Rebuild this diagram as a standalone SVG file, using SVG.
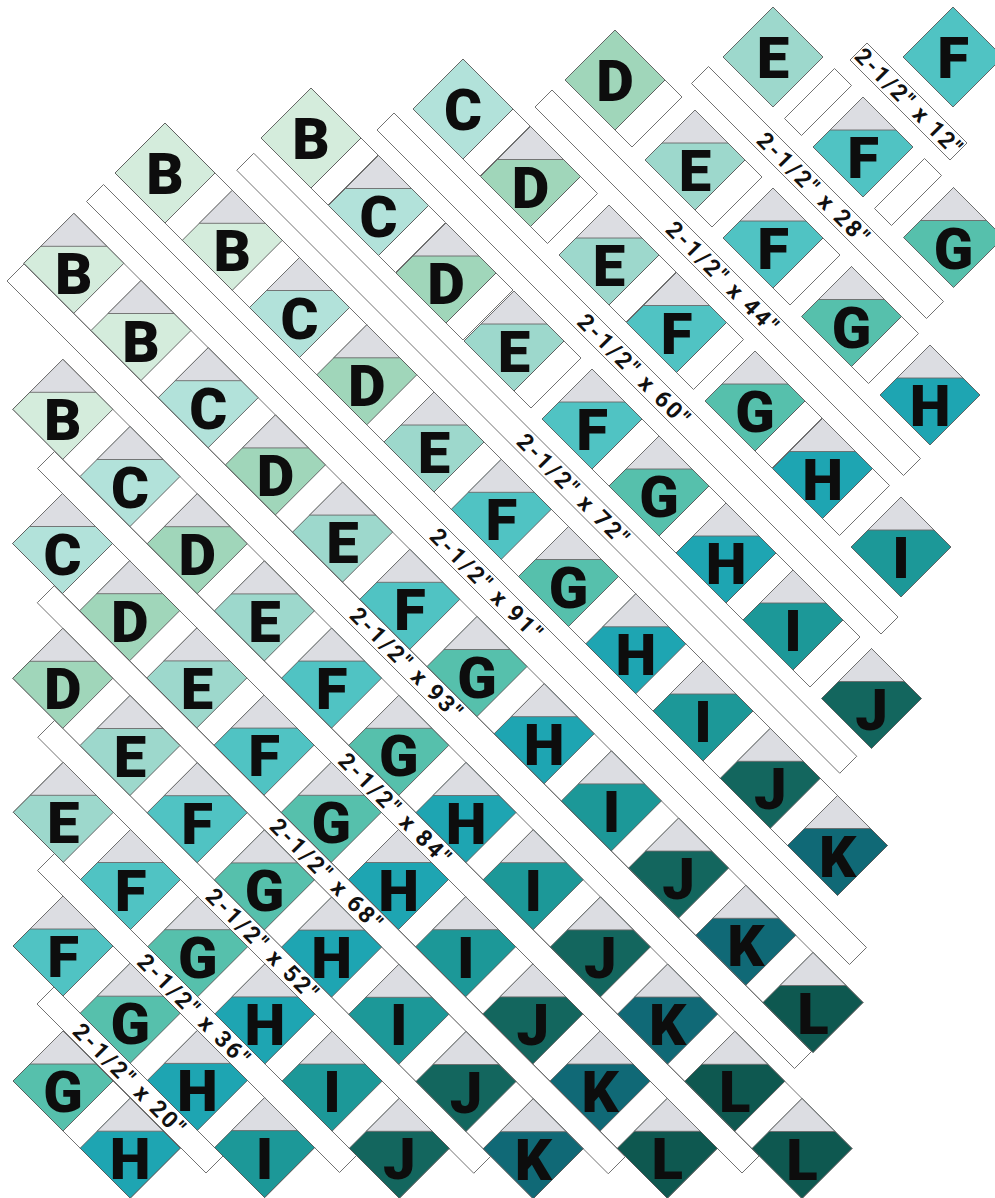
<svg xmlns="http://www.w3.org/2000/svg" xmlns:xlink="http://www.w3.org/1999/xlink" width="995" height="1198" viewBox="0 0 995 1198">
<style>
.cB{fill:#d4ecdc}.cC{fill:#b2e2da}.cD{fill:#a0d6ba}.cE{fill:#9dd8cc}.cF{fill:#50c3c3}.cG{fill:#56c0ac}
.cH{fill:#1ea5b2}.cI{fill:#1c9898}.cJ{fill:#13665e}.cK{fill:#106976}.cL{fill:#0e5850}
.sk{fill:#fff;stroke:#6e6e6e;stroke-width:1.3}
text.l{font-family:Roboto,"Liberation Sans",sans-serif;font-weight:900;font-size:58px;text-anchor:middle;fill:#0d0d0d}
text.lab{font-family:Roboto,"Liberation Sans",sans-serif;font-weight:700;font-size:23px;text-anchor:middle;fill:#111}
</style>
<defs>
<polygon id="dm" points="0,-50 50,0 0,50 -50,0" stroke="#585858" stroke-width="0.9"/>
<polygon id="cp" points="0,-50 33,-17 -33,-17" fill="#dcdde2" stroke="#6a6a6a" stroke-width="0.9"/>
</defs>
<rect width="995" height="1198" fill="#fff"/>
<g id="connectors">
<g id="strips" class="sk" transform="matrix(0.5,0.5,0.5,-0.5,0,0)">
<rect x="910" y="790" width="200" height="34"/>
<rect x="775" y="608" width="470" height="34"/>
<rect x="642" y="428" width="737" height="34"/>
<rect x="507" y="247" width="1008" height="34"/>
<rect x="407" y="66.5" width="1206" height="34"/>
<rect x="288" y="-115" width="1526" height="34"/>
<rect x="288" y="-274" width="1575" height="34"/>
<rect x="506" y="-431" width="1409" height="34"/>
<rect x="640" y="-565.5" width="1142" height="34"/>
<rect x="775" y="-699.5" width="872" height="34"/>
<rect x="908" y="-833" width="604" height="34"/>
<rect x="1041" y="-967" width="338" height="34"/>
</g>
<g id="sashing" class="sk" transform="matrix(0.5,0.5,0.5,-0.5,0,0)">
<rect x="288" y="-58" width="1445" height="100"/>
<rect x="287" y="-239.5" width="1578.4" height="100"/>
<rect x="422" y="-396.5" width="1578.4" height="100"/>
<rect x="556" y="-531" width="1309.6" height="100"/>
<rect x="691" y="-665.5" width="1040.8" height="100"/>
<rect x="825.5" y="-799" width="772" height="100"/>
<rect x="959" y="-933" width="503.2" height="100"/>
<rect x="1094" y="-1068" width="234.4" height="100"/>
<rect x="903" y="666" width="34" height="100"/>
<rect x="1083" y="666" width="34" height="100"/>
<rect x="745" y="485" width="34" height="100"/>
<rect x="905" y="485" width="34" height="100"/>
<rect x="1061" y="485" width="34" height="100"/>
<rect x="1218" y="485" width="34" height="100"/>
<rect x="622" y="304" width="34" height="100"/>
<rect x="757" y="304" width="34" height="100"/>
<rect x="914" y="304" width="34" height="100"/>
<rect x="1049" y="304" width="34" height="100"/>
<rect x="1206" y="304" width="34" height="100"/>
<rect x="1341" y="304" width="34" height="100"/>
<rect x="499" y="123" width="34" height="100"/>
<rect x="634" y="123" width="34" height="100"/>
<rect x="769" y="123" width="34" height="100"/>
<rect x="905" y="123" width="34" height="100"/>
<rect x="1061" y="123" width="34" height="100"/>
<rect x="1195" y="123" width="34" height="100"/>
<rect x="1329" y="123" width="34" height="100"/>
<rect x="1463" y="123" width="34" height="100"/>
</g>
</g>
<g id="tiles">
<g id="a1" transform="translate(953,57)"><use href="#dm" class="cF"/><text class="l" y="21">F</text></g>
<g id="b1" transform="translate(773,57)"><use href="#dm" class="cE"/><text class="l" y="21">E</text></g>
<g id="b2" transform="translate(863,147)"><use href="#dm" class="cF"/><use href="#cp"/><text class="l" y="31">F</text></g>
<g id="b3" transform="translate(953.5,237.5)"><use href="#dm" class="cG"/><use href="#cp"/><text class="l" y="31">G</text></g>
<g id="c1" transform="translate(615,80)"><use href="#dm" class="cD"/><text class="l" y="21">D</text></g>
<g id="c2" transform="translate(695,160)"><use href="#dm" class="cE"/><use href="#cp"/><text class="l" y="31">E</text></g>
<g id="c3" transform="translate(773,238)"><use href="#dm" class="cF"/><use href="#cp"/><text class="l" y="31">F</text></g>
<g id="c4" transform="translate(851.5,316.5)"><use href="#dm" class="cG"/><use href="#cp"/><text class="l" y="31">G</text></g>
<g id="c5" transform="translate(930,395)"><use href="#dm" class="cH"/><use href="#cp"/><text class="l" y="31">H</text></g>
<g id="d1" transform="translate(463,109)"><use href="#dm" class="cC"/><text class="l" y="21">C</text></g>
<g id="d2" transform="translate(530.5,176.5)"><use href="#dm" class="cD"/><use href="#cp"/><text class="l" y="31">D</text></g>
<g id="d3" transform="translate(609,255)"><use href="#dm" class="cE"/><use href="#cp"/><text class="l" y="31">E</text></g>
<g id="d4" transform="translate(676.5,322.5)"><use href="#dm" class="cF"/><use href="#cp"/><text class="l" y="31">F</text></g>
<g id="d5" transform="translate(755,401)"><use href="#dm" class="cG"/><use href="#cp"/><text class="l" y="31">G</text></g>
<g id="d6" transform="translate(822.5,468.5)"><use href="#dm" class="cH"/><use href="#cp"/><text class="l" y="31">H</text></g>
<g id="d7" transform="translate(901,547)"><use href="#dm" class="cI"/><use href="#cp"/><text class="l" y="31">I</text></g>
<g id="e1" transform="translate(311,138)"><use href="#dm" class="cB"/><text class="l" y="21">B</text></g>
<g id="e2" transform="translate(378.5,205.5)"><use href="#dm" class="cC"/><use href="#cp"/><text class="l" y="31">C</text></g>
<g id="e3" transform="translate(446,273)"><use href="#dm" class="cD"/><use href="#cp"/><text class="l" y="31">D</text></g>
<g id="e4" transform="translate(514,341)"><use href="#dm" class="cE"/><use href="#cp"/><text class="l" y="31">E</text></g>
<g id="e5" transform="translate(592,419)"><use href="#dm" class="cF"/><use href="#cp"/><text class="l" y="31">F</text></g>
<g id="e6" transform="translate(659,486)"><use href="#dm" class="cG"/><use href="#cp"/><text class="l" y="31">G</text></g>
<g id="e7" transform="translate(726,553)"><use href="#dm" class="cH"/><use href="#cp"/><text class="l" y="31">H</text></g>
<g id="e8" transform="translate(793,620)"><use href="#dm" class="cI"/><use href="#cp"/><text class="l" y="31">I</text></g>
<g id="e9" transform="translate(871.5,698.5)"><use href="#dm" class="cJ"/><use href="#cp"/><text class="l" y="31">J</text></g>
<g id="f1" transform="translate(165,173)"><use href="#dm" class="cB"/><text class="l" y="21">B</text></g>
<g id="f2" transform="translate(232.3,240.3)"><use href="#dm" class="cB"/><use href="#cp"/><text class="l" y="31">B</text></g>
<g id="f3" transform="translate(299.5,307.5)"><use href="#dm" class="cC"/><use href="#cp"/><text class="l" y="31">C</text></g>
<g id="f4" transform="translate(366.8,374.8)"><use href="#dm" class="cD"/><use href="#cp"/><text class="l" y="31">D</text></g>
<g id="f5" transform="translate(434,442)"><use href="#dm" class="cE"/><use href="#cp"/><text class="l" y="31">E</text></g>
<g id="f6" transform="translate(501.3,509.3)"><use href="#dm" class="cF"/><use href="#cp"/><text class="l" y="31">F</text></g>
<g id="f7" transform="translate(568.5,576.5)"><use href="#dm" class="cG"/><use href="#cp"/><text class="l" y="31">G</text></g>
<g id="f8" transform="translate(635.8,643.8)"><use href="#dm" class="cH"/><use href="#cp"/><text class="l" y="31">H</text></g>
<g id="f9" transform="translate(703,711)"><use href="#dm" class="cI"/><use href="#cp"/><text class="l" y="31">I</text></g>
<g id="f10" transform="translate(770.3,778.3)"><use href="#dm" class="cJ"/><use href="#cp"/><text class="l" y="31">J</text></g>
<g id="f11" transform="translate(837.5,845.5)"><use href="#dm" class="cK"/><use href="#cp"/><text class="l" y="31">K</text></g>
<g id="g1" transform="translate(73.8,263.3)"><use href="#dm" class="cB"/><use href="#cp"/><text class="l" y="31">B</text></g>
<g id="g2" transform="translate(141,330.5)"><use href="#dm" class="cB"/><use href="#cp"/><text class="l" y="31">B</text></g>
<g id="g3" transform="translate(208.2,397.7)"><use href="#dm" class="cC"/><use href="#cp"/><text class="l" y="31">C</text></g>
<g id="g4" transform="translate(275.4,464.9)"><use href="#dm" class="cD"/><use href="#cp"/><text class="l" y="31">D</text></g>
<g id="g5" transform="translate(342.6,532.1)"><use href="#dm" class="cE"/><use href="#cp"/><text class="l" y="31">E</text></g>
<g id="g6" transform="translate(409.8,599.3)"><use href="#dm" class="cF"/><use href="#cp"/><text class="l" y="31">F</text></g>
<g id="g7" transform="translate(477,666.5)"><use href="#dm" class="cG"/><use href="#cp"/><text class="l" y="31">G</text></g>
<g id="g8" transform="translate(544.2,733.7)"><use href="#dm" class="cH"/><use href="#cp"/><text class="l" y="31">H</text></g>
<g id="g9" transform="translate(611.4,800.9)"><use href="#dm" class="cI"/><use href="#cp"/><text class="l" y="31">I</text></g>
<g id="g10" transform="translate(678.6,868.1)"><use href="#dm" class="cJ"/><use href="#cp"/><text class="l" y="31">J</text></g>
<g id="g11" transform="translate(745.8,935.3)"><use href="#dm" class="cK"/><use href="#cp"/><text class="l" y="31">K</text></g>
<g id="g12" transform="translate(813,1002.5)"><use href="#dm" class="cL"/><use href="#cp"/><text class="l" y="31">L</text></g>
<g id="h1" transform="translate(62.8,409.3)"><use href="#dm" class="cB"/><use href="#cp"/><text class="l" y="31">B</text></g>
<g id="h2" transform="translate(130,476.5)"><use href="#dm" class="cC"/><use href="#cp"/><text class="l" y="31">C</text></g>
<g id="h3" transform="translate(197.2,543.7)"><use href="#dm" class="cD"/><use href="#cp"/><text class="l" y="31">D</text></g>
<g id="h4" transform="translate(264.4,610.9)"><use href="#dm" class="cE"/><use href="#cp"/><text class="l" y="31">E</text></g>
<g id="h5" transform="translate(331.6,678.1)"><use href="#dm" class="cF"/><use href="#cp"/><text class="l" y="31">F</text></g>
<g id="h6" transform="translate(398.8,745.3)"><use href="#dm" class="cG"/><use href="#cp"/><text class="l" y="31">G</text></g>
<g id="h7" transform="translate(466,812.5)"><use href="#dm" class="cH"/><use href="#cp"/><text class="l" y="31">H</text></g>
<g id="h8" transform="translate(533.2,879.7)"><use href="#dm" class="cI"/><use href="#cp"/><text class="l" y="31">I</text></g>
<g id="h9" transform="translate(600.4,946.9)"><use href="#dm" class="cJ"/><use href="#cp"/><text class="l" y="31">J</text></g>
<g id="h10" transform="translate(667.6,1014.1)"><use href="#dm" class="cK"/><use href="#cp"/><text class="l" y="31">K</text></g>
<g id="h11" transform="translate(734.8,1081.3)"><use href="#dm" class="cL"/><use href="#cp"/><text class="l" y="31">L</text></g>
<g id="h12" transform="translate(802,1148.5)"><use href="#dm" class="cL"/><use href="#cp"/><text class="l" y="31">L</text></g>
<g id="i1" transform="translate(62.5,543.5)"><use href="#dm" class="cC"/><use href="#cp"/><text class="l" y="31">C</text></g>
<g id="i2" transform="translate(129.7,610.7)"><use href="#dm" class="cD"/><use href="#cp"/><text class="l" y="31">D</text></g>
<g id="i3" transform="translate(196.9,677.9)"><use href="#dm" class="cE"/><use href="#cp"/><text class="l" y="31">E</text></g>
<g id="i4" transform="translate(264.1,745.1)"><use href="#dm" class="cF"/><use href="#cp"/><text class="l" y="31">F</text></g>
<g id="i5" transform="translate(331.3,812.3)"><use href="#dm" class="cG"/><use href="#cp"/><text class="l" y="31">G</text></g>
<g id="i6" transform="translate(398.5,879.5)"><use href="#dm" class="cH"/><use href="#cp"/><text class="l" y="31">H</text></g>
<g id="i7" transform="translate(465.7,946.7)"><use href="#dm" class="cI"/><use href="#cp"/><text class="l" y="31">I</text></g>
<g id="i8" transform="translate(532.9,1013.9)"><use href="#dm" class="cJ"/><use href="#cp"/><text class="l" y="31">J</text></g>
<g id="i9" transform="translate(600.1,1081.1)"><use href="#dm" class="cK"/><use href="#cp"/><text class="l" y="31">K</text></g>
<g id="i10" transform="translate(667.3,1148.3)"><use href="#dm" class="cL"/><use href="#cp"/><text class="l" y="31">L</text></g>
<g id="j1" transform="translate(62.8,678.3)"><use href="#dm" class="cD"/><use href="#cp"/><text class="l" y="31">D</text></g>
<g id="j2" transform="translate(130,745.5)"><use href="#dm" class="cE"/><use href="#cp"/><text class="l" y="31">E</text></g>
<g id="j3" transform="translate(197.2,812.7)"><use href="#dm" class="cF"/><use href="#cp"/><text class="l" y="31">F</text></g>
<g id="j4" transform="translate(264.4,879.9)"><use href="#dm" class="cG"/><use href="#cp"/><text class="l" y="31">G</text></g>
<g id="j5" transform="translate(331.6,947.1)"><use href="#dm" class="cH"/><use href="#cp"/><text class="l" y="31">H</text></g>
<g id="j6" transform="translate(398.8,1014.3)"><use href="#dm" class="cI"/><use href="#cp"/><text class="l" y="31">I</text></g>
<g id="j7" transform="translate(466,1081.5)"><use href="#dm" class="cJ"/><use href="#cp"/><text class="l" y="31">J</text></g>
<g id="j8" transform="translate(533.2,1148.7)"><use href="#dm" class="cK"/><use href="#cp"/><text class="l" y="31">K</text></g>
<g id="k1" transform="translate(63.3,812.3)"><use href="#dm" class="cE"/><use href="#cp"/><text class="l" y="31">E</text></g>
<g id="k2" transform="translate(130.5,879.5)"><use href="#dm" class="cF"/><use href="#cp"/><text class="l" y="31">F</text></g>
<g id="k3" transform="translate(197.7,946.7)"><use href="#dm" class="cG"/><use href="#cp"/><text class="l" y="31">G</text></g>
<g id="k4" transform="translate(264.9,1013.9)"><use href="#dm" class="cH"/><use href="#cp"/><text class="l" y="31">H</text></g>
<g id="k5" transform="translate(332.1,1081.1)"><use href="#dm" class="cI"/><use href="#cp"/><text class="l" y="31">I</text></g>
<g id="k6" transform="translate(399.3,1148.3)"><use href="#dm" class="cJ"/><use href="#cp"/><text class="l" y="31">J</text></g>
<g id="l1" transform="translate(63,946)"><use href="#dm" class="cF"/><use href="#cp"/><text class="l" y="31">F</text></g>
<g id="l2" transform="translate(130.2,1013.2)"><use href="#dm" class="cG"/><use href="#cp"/><text class="l" y="31">G</text></g>
<g id="l3" transform="translate(197.4,1080.4)"><use href="#dm" class="cH"/><use href="#cp"/><text class="l" y="31">H</text></g>
<g id="l4" transform="translate(264.6,1147.6)"><use href="#dm" class="cI"/><use href="#cp"/><text class="l" y="31">I</text></g>
<g id="m1" transform="translate(63,1081)"><use href="#dm" class="cG"/><use href="#cp"/><text class="l" y="31">G</text></g>
<g id="m2" transform="translate(130.2,1148.2)"><use href="#dm" class="cH"/><use href="#cp"/><text class="l" y="31">H</text></g>
</g>
<g id="labels">
<text class="lab" transform="translate(908.3,101.3) rotate(45)" y="8" textLength="140" lengthAdjust="spacing">2-1/2" x 12"</text>
<text class="lab" transform="translate(813,188) rotate(45)" y="8" textLength="147" lengthAdjust="spacing">2-1/2" x 28"</text>
<text class="lab" transform="translate(722,277) rotate(45)" y="8" textLength="147" lengthAdjust="spacing">2-1/2" x 44"</text>
<text class="lab" transform="translate(633.5,369.5) rotate(45)" y="8" textLength="147" lengthAdjust="spacing">2-1/2" x 60"</text>
<text class="lab" transform="translate(572.8,489.3) rotate(45)" y="8" textLength="147" lengthAdjust="spacing">2-1/2" x 72"</text>
<text class="lab" transform="translate(486,584) rotate(45)" y="8" textLength="147" lengthAdjust="spacing">2-1/2" x 91"</text>
<text class="lab" transform="translate(406,663) rotate(45)" y="8" textLength="147" lengthAdjust="spacing">2-1/2" x 93"</text>
<text class="lab" transform="translate(394.5,808.5) rotate(45)" y="8" textLength="147" lengthAdjust="spacing">2-1/2" x 84"</text>
<text class="lab" transform="translate(326,874) rotate(45)" y="8" textLength="147" lengthAdjust="spacing">2-1/2" x 68"</text>
<text class="lab" transform="translate(262,944) rotate(45)" y="8" textLength="147" lengthAdjust="spacing">2-1/2" x 52"</text>
<text class="lab" transform="translate(193.5,1009.5) rotate(45)" y="8" textLength="147" lengthAdjust="spacing">2-1/2" x 36"</text>
<text class="lab" transform="translate(129,1079) rotate(45)" y="8" textLength="147" lengthAdjust="spacing">2-1/2" x 20"</text>
</g>
</svg>
